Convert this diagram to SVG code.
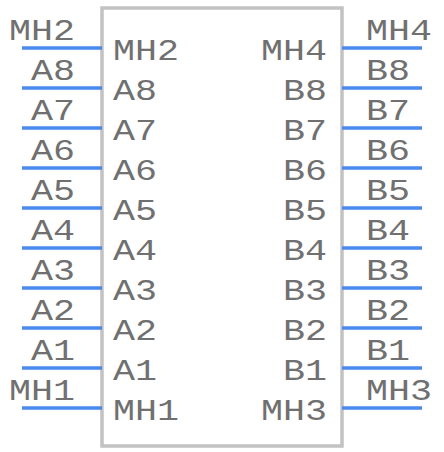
<svg xmlns="http://www.w3.org/2000/svg" width="444" height="452" viewBox="0 0 444 452">
<style>
.body{fill:#ffffff;stroke:#c2c2c2;stroke-width:3.5}
.pin{stroke:#4a8af0;stroke-width:3.5;fill:none}
text{font-family:"Liberation Mono","DejaVu Sans Mono",monospace;font-size:30px;fill:#707070}
</style>
<rect width="444" height="452" fill="#ffffff"/>
<g id="body">
<rect class="body" x="102" y="8" width="240" height="438"/>
</g>
<g id="connectors">
<line class="pin" x1="22" y1="48" x2="102" y2="48"/>
<line class="pin" x1="22" y1="88" x2="102" y2="88"/>
<line class="pin" x1="22" y1="128" x2="102" y2="128"/>
<line class="pin" x1="22" y1="168" x2="102" y2="168"/>
<line class="pin" x1="22" y1="208" x2="102" y2="208"/>
<line class="pin" x1="22" y1="248" x2="102" y2="248"/>
<line class="pin" x1="22" y1="288" x2="102" y2="288"/>
<line class="pin" x1="22" y1="328" x2="102" y2="328"/>
<line class="pin" x1="22" y1="368" x2="102" y2="368"/>
<line class="pin" x1="22" y1="408" x2="102" y2="408"/>
<line class="pin" x1="342" y1="48" x2="422" y2="48"/>
<line class="pin" x1="342" y1="88" x2="422" y2="88"/>
<line class="pin" x1="342" y1="128" x2="422" y2="128"/>
<line class="pin" x1="342" y1="168" x2="422" y2="168"/>
<line class="pin" x1="342" y1="208" x2="422" y2="208"/>
<line class="pin" x1="342" y1="248" x2="422" y2="248"/>
<line class="pin" x1="342" y1="288" x2="422" y2="288"/>
<line class="pin" x1="342" y1="328" x2="422" y2="328"/>
<line class="pin" x1="342" y1="368" x2="422" y2="368"/>
<line class="pin" x1="342" y1="408" x2="422" y2="408"/>
</g>
<g id="pin-MH2"><text x="9" y="40" textLength="66" lengthAdjust="spacingAndGlyphs">MH2</text><text x="113" y="60" textLength="66" lengthAdjust="spacingAndGlyphs">MH2</text></g>
<g id="pin-A8"><text x="31" y="80" textLength="44" lengthAdjust="spacingAndGlyphs">A8</text><text x="113" y="100" textLength="44" lengthAdjust="spacingAndGlyphs">A8</text></g>
<g id="pin-A7"><text x="31" y="120" textLength="44" lengthAdjust="spacingAndGlyphs">A7</text><text x="113" y="140" textLength="44" lengthAdjust="spacingAndGlyphs">A7</text></g>
<g id="pin-A6"><text x="31" y="160" textLength="44" lengthAdjust="spacingAndGlyphs">A6</text><text x="113" y="180" textLength="44" lengthAdjust="spacingAndGlyphs">A6</text></g>
<g id="pin-A5"><text x="31" y="200" textLength="44" lengthAdjust="spacingAndGlyphs">A5</text><text x="113" y="220" textLength="44" lengthAdjust="spacingAndGlyphs">A5</text></g>
<g id="pin-A4"><text x="31" y="240" textLength="44" lengthAdjust="spacingAndGlyphs">A4</text><text x="113" y="260" textLength="44" lengthAdjust="spacingAndGlyphs">A4</text></g>
<g id="pin-A3"><text x="31" y="280" textLength="44" lengthAdjust="spacingAndGlyphs">A3</text><text x="113" y="300" textLength="44" lengthAdjust="spacingAndGlyphs">A3</text></g>
<g id="pin-A2"><text x="31" y="320" textLength="44" lengthAdjust="spacingAndGlyphs">A2</text><text x="113" y="340" textLength="44" lengthAdjust="spacingAndGlyphs">A2</text></g>
<g id="pin-A1"><text x="31" y="360" textLength="44" lengthAdjust="spacingAndGlyphs">A1</text><text x="113" y="380" textLength="44" lengthAdjust="spacingAndGlyphs">A1</text></g>
<g id="pin-MH1"><text x="9" y="400" textLength="66" lengthAdjust="spacingAndGlyphs">MH1</text><text x="113" y="420" textLength="66" lengthAdjust="spacingAndGlyphs">MH1</text></g>
<g id="pin-MH4"><text x="366" y="40" textLength="66" lengthAdjust="spacingAndGlyphs">MH4</text><text x="261" y="60" textLength="66" lengthAdjust="spacingAndGlyphs">MH4</text></g>
<g id="pin-B8"><text x="366" y="80" textLength="44" lengthAdjust="spacingAndGlyphs">B8</text><text x="283" y="100" textLength="44" lengthAdjust="spacingAndGlyphs">B8</text></g>
<g id="pin-B7"><text x="366" y="120" textLength="44" lengthAdjust="spacingAndGlyphs">B7</text><text x="283" y="140" textLength="44" lengthAdjust="spacingAndGlyphs">B7</text></g>
<g id="pin-B6"><text x="366" y="160" textLength="44" lengthAdjust="spacingAndGlyphs">B6</text><text x="283" y="180" textLength="44" lengthAdjust="spacingAndGlyphs">B6</text></g>
<g id="pin-B5"><text x="366" y="200" textLength="44" lengthAdjust="spacingAndGlyphs">B5</text><text x="283" y="220" textLength="44" lengthAdjust="spacingAndGlyphs">B5</text></g>
<g id="pin-B4"><text x="366" y="240" textLength="44" lengthAdjust="spacingAndGlyphs">B4</text><text x="283" y="260" textLength="44" lengthAdjust="spacingAndGlyphs">B4</text></g>
<g id="pin-B3"><text x="366" y="280" textLength="44" lengthAdjust="spacingAndGlyphs">B3</text><text x="283" y="300" textLength="44" lengthAdjust="spacingAndGlyphs">B3</text></g>
<g id="pin-B2"><text x="366" y="320" textLength="44" lengthAdjust="spacingAndGlyphs">B2</text><text x="283" y="340" textLength="44" lengthAdjust="spacingAndGlyphs">B2</text></g>
<g id="pin-B1"><text x="366" y="360" textLength="44" lengthAdjust="spacingAndGlyphs">B1</text><text x="283" y="380" textLength="44" lengthAdjust="spacingAndGlyphs">B1</text></g>
<g id="pin-MH3"><text x="366" y="400" textLength="66" lengthAdjust="spacingAndGlyphs">MH3</text><text x="261" y="420" textLength="66" lengthAdjust="spacingAndGlyphs">MH3</text></g>
</svg>
